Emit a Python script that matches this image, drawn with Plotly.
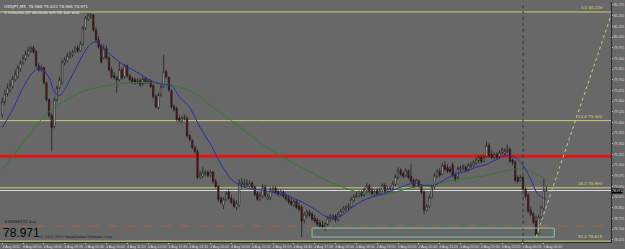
import plotly.graph_objects as go

# ---------------- data (USDJPY, M5) ----------------
open_p = [79.505,79.596,79.652,79.680,79.701,79.750,79.771,79.827,79.869,79.897,
          79.925,79.953,79.974,79.946,79.848,79.820,79.834,79.729,79.610,79.498,
          79.421,79.610,79.694,79.729,79.869,79.883,79.911,79.925,79.946,79.974,
          79.953,80.002,80.114,80.177,80.191,80.205,80.100,80.030,79.988,79.904,
          79.967,79.904,79.820,79.778,79.764,79.750,79.820,79.771,79.848,79.778,
          79.757,79.750,79.729,79.743,79.722,79.757,79.729,79.743,79.708,79.631,
          79.554,79.645,79.701,79.806,79.764,79.673,79.561,79.547,79.477,79.456,
          79.477,79.477,79.358,79.323,79.274,79.246,79.064,79.071,79.085,79.099,
          79.078,79.099,79.036,79.001,78.917,78.868,78.910,78.959,78.917,78.896,
          78.854,78.868,79.015,79.008,79.008,79.001,79.022,78.994,78.952,78.910,
          78.931,78.994,78.910,78.924,78.966,78.987,78.966,78.945,78.959,78.938,
          78.917,78.896,78.868,78.896,78.861,78.854,78.763,78.798,78.819,78.805,
          78.777,78.763,78.742,78.728,78.707,78.735,78.770,78.777,78.791,78.763,
          78.798,78.826,78.840,78.847,78.854,78.903,78.924,78.931,78.959,78.938,
          78.973,79.001,78.973,78.945,78.973,78.952,78.973,79.008,78.966,78.980,
          78.987,79.015,79.064,79.113,79.092,79.078,79.106,79.071,79.043,79.001,
          79.036,79.001,78.959,78.833,78.861,78.924,78.994,79.071,79.106,79.085,
          79.148,79.134,79.120,79.148,79.078,79.064,79.120,79.127,79.134,79.120,
          79.141,79.148,79.162,79.183,79.204,79.176,79.211,79.288,79.225,79.204,
          79.225,79.211,79.239,79.232,79.246,79.260,79.183,79.169,79.064,79.043,
          79.064,78.980,78.938,78.833,78.805,78.756,78.665,78.784,78.847,78.968]
high_p = [79.624,79.680,79.722,79.750,79.778,79.820,79.855,79.883,79.925,79.953,
          79.981,79.988,79.988,79.960,79.869,79.855,79.841,79.736,79.617,79.512,
          79.624,79.708,79.771,79.890,79.911,79.939,79.953,79.960,79.988,79.995,
          80.023,80.128,80.198,80.219,80.219,80.212,80.121,80.058,80.002,79.995,
          79.988,79.911,79.841,79.806,79.778,79.869,79.834,79.862,79.855,79.792,
          79.771,79.764,79.757,79.757,79.771,79.764,79.757,79.750,79.715,79.645,
          79.659,79.715,79.925,79.820,79.771,79.680,79.575,79.561,79.498,79.498,
          79.505,79.491,79.365,79.330,79.288,79.260,79.106,79.134,79.113,79.113,
          79.113,79.106,79.050,79.008,78.931,78.924,78.966,78.980,78.938,78.917,
          78.903,79.050,79.057,79.050,79.050,79.043,79.036,79.008,78.966,78.959,
          79.015,79.008,78.945,78.994,79.001,79.001,78.980,78.980,78.973,78.952,
          78.938,78.924,78.910,78.910,78.889,78.868,78.819,78.833,78.833,78.819,
          78.798,78.777,78.763,78.756,78.749,78.791,78.805,78.805,78.805,78.819,
          78.840,78.861,78.868,78.882,78.924,78.945,78.959,78.973,78.973,78.994,
          79.022,79.015,78.994,78.980,78.987,78.994,79.022,79.022,79.001,79.001,
          79.036,79.085,79.134,79.127,79.106,79.127,79.120,79.155,79.057,79.057,
          79.050,79.015,78.973,78.875,78.938,79.008,79.092,79.120,79.127,79.162,
          79.176,79.155,79.141,79.169,79.099,79.141,79.148,79.155,79.148,79.162,
          79.169,79.183,79.204,79.218,79.218,79.218,79.316,79.302,79.253,79.239,
          79.239,79.253,79.274,79.267,79.295,79.274,79.197,79.183,79.078,79.078,
          79.071,78.994,78.952,78.854,78.819,78.791,78.798,78.868,79.050,79.003]
low_p = [79.484,79.575,79.631,79.659,79.687,79.736,79.757,79.806,79.855,79.883,
         79.911,79.939,79.932,79.834,79.806,79.806,79.715,79.596,79.484,79.246,
         79.407,79.596,79.680,79.715,79.848,79.869,79.897,79.911,79.939,79.939,
         79.946,79.988,80.100,80.163,80.177,80.086,80.016,79.967,79.862,79.890,
         79.890,79.806,79.757,79.750,79.659,79.736,79.750,79.757,79.764,79.736,
         79.722,79.715,79.722,79.701,79.708,79.722,79.722,79.694,79.617,79.547,
         79.540,79.631,79.694,79.757,79.666,79.547,79.526,79.456,79.449,79.442,
         79.463,79.344,79.316,79.260,79.232,79.050,79.050,79.057,79.071,79.064,
         79.064,79.022,78.987,78.896,78.875,78.840,78.896,78.903,78.875,78.847,
         78.833,78.854,78.980,78.987,78.994,78.987,78.980,78.931,78.896,78.896,
         78.917,78.924,78.903,78.903,78.952,78.945,78.931,78.931,78.917,78.896,
         78.875,78.861,78.854,78.840,78.826,78.644,78.742,78.777,78.784,78.756,
         78.742,78.721,78.707,78.700,78.686,78.721,78.749,78.763,78.749,78.756,
         78.784,78.812,78.826,78.833,78.847,78.889,78.917,78.924,78.924,78.924,
         78.952,78.952,78.931,78.931,78.938,78.945,78.959,78.952,78.959,78.959,
         78.973,79.001,79.050,79.071,79.057,79.064,79.050,79.022,78.987,78.994,
         78.987,78.945,78.805,78.826,78.847,78.917,78.980,79.057,79.064,79.078,
         79.106,79.092,79.092,79.064,79.036,79.050,79.099,79.113,79.099,79.106,
         79.127,79.134,79.148,79.162,79.162,79.169,79.204,79.204,79.190,79.190,
         79.190,79.197,79.225,79.218,79.232,79.162,79.148,79.029,79.022,79.036,
         78.966,78.917,78.812,78.791,78.735,78.644,78.658,78.770,78.833,78.966]
close_p = [79.596,79.652,79.694,79.715,79.757,79.792,79.834,79.869,79.904,79.932,
           79.960,79.974,79.946,79.848,79.820,79.834,79.729,79.610,79.498,79.414,
           79.610,79.694,79.750,79.876,79.890,79.918,79.932,79.946,79.974,79.953,
           80.002,80.114,80.184,80.205,80.205,80.100,80.030,79.981,79.876,79.967,
           79.904,79.820,79.771,79.764,79.750,79.820,79.764,79.848,79.778,79.750,
           79.736,79.729,79.743,79.715,79.757,79.729,79.743,79.701,79.631,79.561,
           79.645,79.701,79.806,79.771,79.680,79.561,79.540,79.470,79.463,79.484,
           79.491,79.358,79.330,79.274,79.246,79.064,79.085,79.099,79.099,79.078,
           79.099,79.036,79.001,78.910,78.889,78.910,78.952,78.917,78.889,78.861,
           78.882,79.022,79.029,79.022,79.015,79.022,78.994,78.945,78.910,78.938,
           78.994,78.938,78.931,78.980,78.987,78.959,78.945,78.966,78.931,78.910,
           78.889,78.875,78.896,78.854,78.840,78.756,78.805,78.819,78.798,78.770,
           78.756,78.735,78.721,78.714,78.735,78.777,78.791,78.791,78.763,78.805,
           78.826,78.847,78.854,78.861,78.910,78.931,78.938,78.959,78.938,78.980,
           79.001,78.966,78.945,78.966,78.945,78.973,79.008,78.966,78.987,78.987,
           79.022,79.071,79.113,79.085,79.071,79.113,79.064,79.036,79.001,79.043,
           79.001,78.959,78.833,78.861,78.924,78.994,79.078,79.106,79.078,79.148,
           79.120,79.106,79.106,79.078,79.050,79.127,79.134,79.141,79.113,79.148,
           79.155,79.169,79.190,79.204,79.176,79.204,79.288,79.211,79.204,79.225,
           79.204,79.239,79.260,79.253,79.260,79.176,79.169,79.043,79.036,79.064,
           78.980,78.931,78.826,78.805,78.749,78.658,78.784,78.854,78.973,78.971]
bar_index = list(range(len(close_p)))

# Moving averages (bar index, price)
ma_fast_idx = [0,4,8,12,15,18,20,22,24,26,28,31,34,36,38,42,46,50,54,58,62,65,68,72,76,80,84,88,92,96,
               100,104,108,112,116,120,124,127,130,134,138,142,146,150,154,158,162,166,170,174,178,182,186,190,194,197,200,203,206,209]
ma_fast = [79.414,79.540,79.694,79.806,79.827,79.764,79.666,79.638,79.680,79.750,
           79.820,79.925,80.002,80.016,79.988,79.918,79.862,79.820,79.778,79.736,
           79.715,79.708,79.631,79.554,79.414,79.295,79.155,79.050,79.001,78.980,
           78.973,78.959,78.945,78.917,78.882,78.840,78.791,78.777,78.791,78.847,
           78.896,78.924,78.945,78.973,79.001,79.022,79.008,79.008,79.050,79.085,
           79.106,79.134,79.155,79.190,79.218,79.204,79.148,79.050,78.938,78.910]
ma_slow_idx = [0,6,12,18,25,31,38,45,50,57,64,70,76,81,88,94,100,107,114,120,
               126,132,138,145,152,158,165,171,178,184,191,197,200,205,209]
ma_slow = [79.120,79.260,79.400,79.526,79.610,79.666,79.701,79.722,79.729,79.729,
           79.715,79.687,79.631,79.554,79.463,79.379,79.295,79.211,79.141,79.085,
           79.029,78.987,78.952,78.938,78.966,78.994,79.015,79.036,79.057,79.071,
           79.099,79.120,79.120,79.085,79.050]

# Fibonacci levels
fib_levels = [0.0, 23.6, 38.2, 50.0]
fib_prices = [80.226, 79.462, 78.990, 78.615]

# Other horizontal levels
red_level = 79.211
bid_price = 78.971
order_price = 78.721
order_label = "#48868142 buy"

# Box and trend line
box_bars = [119, 212]
box_prices = [78.644, 78.707]
trend_bars = [205, 236]
trend_prices = [78.644, 80.320]
day_separator_bar = 200

# Time axis
time_tick_bars = list(range(0, 209, 8))
time_tick_labels = ["4 Aug 2011", "4 Aug 08:00", "4 Aug 08:40", "4 Aug 09:20", "4 Aug 10:00",
                    "4 Aug 10:40", "4 Aug 11:20", "4 Aug 12:00", "4 Aug 12:40", "4 Aug 13:20",
                    "4 Aug 14:00", "4 Aug 14:40", "4 Aug 15:20", "4 Aug 16:00", "4 Aug 16:40",
                    "4 Aug 17:20", "4 Aug 18:00", "4 Aug 18:40", "4 Aug 19:20", "4 Aug 20:00",
                    "4 Aug 20:40", "4 Aug 21:20", "4 Aug 22:00", "4 Aug 22:40", "4 Aug 23:20",
                    "5 Aug 00:00", "5 Aug 00:40"]

header_line1 = "USDJPY,M5  78.968 79.003 78.966 78.971"
header_line2 = "3 minutes 22 seconds left for bar end"
copyright_text = "\u00a9 2001-2011 MetaQuotes Software Corp."

# ---------------- styling ----------------
BG = "#686868"
FIB_COL = "#cfcf78"
TXT = "#e6e6e6"
FONT = "DejaVu Sans"
AX_FONT = "Liberation Sans"

fig = go.Figure()

fig.add_trace(go.Scatter(x=ma_slow_idx, y=ma_slow, mode="lines",
                         line=dict(color="#2f7a2f", width=1, shape="spline"), hoverinfo="skip"))
fig.add_trace(go.Scatter(x=ma_fast_idx, y=ma_fast, mode="lines",
                         line=dict(color="#2a2aa8", width=1, shape="spline"), hoverinfo="skip"))

fig.add_trace(go.Candlestick(
    x=bar_index, open=open_p, high=high_p, low=low_p, close=close_p,
    increasing=dict(line=dict(color="#151515", width=0.7), fillcolor="#f4f4f4"),
    decreasing=dict(line=dict(color="#151515", width=0.7), fillcolor="#8e0f0f"),
    whiskerwidth=0,
))

shapes = []
for p in fib_prices:
    shapes.append(dict(type="line", xref="paper", x0=0, x1=1, yref="y", y0=p, y1=p,
                       line=dict(color=FIB_COL, width=1), layer="below"))
shapes.append(dict(type="line", xref="paper", x0=0, x1=1, yref="y", y0=red_level, y1=red_level,
                   line=dict(color="#e41414", width=3), layer="below"))
shapes.append(dict(type="line", xref="paper", x0=0, x1=1, yref="y", y0=bid_price, y1=bid_price,
                   line=dict(color="#d8d8d8", width=1), layer="below"))
shapes.append(dict(type="line", xref="paper", x0=0, x1=1, yref="y", y0=order_price, y1=order_price,
                   line=dict(color="#b0603c", width=1, dash="dash"), layer="below"))
shapes.append(dict(type="line", xref="x", x0=day_separator_bar, x1=day_separator_bar, yref="paper", y0=0, y1=1,
                   line=dict(color="#333333", width=1, dash="dot"), layer="below"))
shapes.append(dict(type="rect", xref="x", x0=box_bars[0], x1=box_bars[1], yref="y",
                   y0=box_prices[0], y1=box_prices[1],
                   line=dict(color="#86c8a2", width=1), fillcolor="rgba(0,0,0,0)"))
shapes.append(dict(type="line", xref="x", x0=trend_bars[0], x1=trend_bars[1], yref="y",
                   y0=trend_prices[0], y1=trend_prices[1],
                   line=dict(color=FIB_COL, width=1, dash="dot")))

annotations = []
for lvl, p in zip(fib_levels, fib_prices):
    annotations.append(dict(x=0.99, xref="paper", y=p, yref="y", text=f"{lvl:.1f} {p:.3f}",
                            showarrow=False, xanchor="right", yanchor="bottom",
                            font=dict(family=FONT, size=4, color=FIB_COL)))
annotations.append(dict(x=0.004, xref="paper", y=1, yref="paper", text=header_line1,
                        showarrow=False, xanchor="left", yanchor="top",
                        font=dict(family=FONT, size=4, color=TXT)))
annotations.append(dict(x=0.004, xref="paper", y=0.975, yref="paper", text=header_line2,
                        showarrow=False, xanchor="left", yanchor="top",
                        font=dict(family=FONT, size=4, color=TXT)))
annotations.append(dict(x=0.004, xref="paper", y=order_price, yref="y", text=order_label,
                        showarrow=False, xanchor="left", yanchor="bottom",
                        font=dict(family=FONT, size=4, color="#1a1a1a")))
annotations.append(dict(x=0.002, xref="paper", y=0.0, yref="paper", text=f"{bid_price:.3f}",
                        showarrow=False, xanchor="left", yanchor="bottom",
                        font=dict(family="Liberation Sans", size=12, color="#050505")))
annotations.append(dict(x=0.062, xref="paper", y=0.005, yref="paper", text=copyright_text,
                        showarrow=False, xanchor="left", yanchor="bottom",
                        font=dict(family=FONT, size=3.5, color="#202020")))
annotations.append(dict(x=1.0, xref="paper", y=bid_price, yref="y", text=f"{bid_price:.3f}",
                        showarrow=False, xanchor="left", yanchor="middle",
                        bgcolor="#000000", borderpad=0,
                        font=dict(family=AX_FONT, size=3.4, color="#ffffff")))

fig.update_layout(
    width=625, height=249,
    margin=dict(l=0, r=14, t=2, b=7, autoexpand=False),
    paper_bgcolor=BG, plot_bgcolor=BG,
    showlegend=False,
    shapes=shapes, annotations=annotations,
    xaxis=dict(range=[-0.85, 233.8], rangeslider=dict(visible=False),
               tickmode="array", tickvals=time_tick_bars, ticktext=time_tick_labels,
               tickangle=0, automargin=False,
               ticks="outside", ticklen=1, tickcolor="#d0d0d0", ticklabelshift=9,
               ticklabelstandoff=0,
               tickfont=dict(family=AX_FONT, size=3.5, color="#d8d8d8"),
               showgrid=False, zeroline=False, showline=True, linecolor="#2a2a2a", linewidth=1),
    yaxis=dict(side="right", range=[78.609, 80.296], tick0=78.625, dtick=0.075,
               tickformat=".3f", automargin=False,
               ticks="outside", ticklen=1, tickcolor="#d0d0d0",
               tickfont=dict(family=AX_FONT, size=3.4, color="#d8d8d8"),
               showgrid=False, zeroline=False, showline=True, linecolor="#2a2a2a", linewidth=1),
)

fig.write_html("out.html")
